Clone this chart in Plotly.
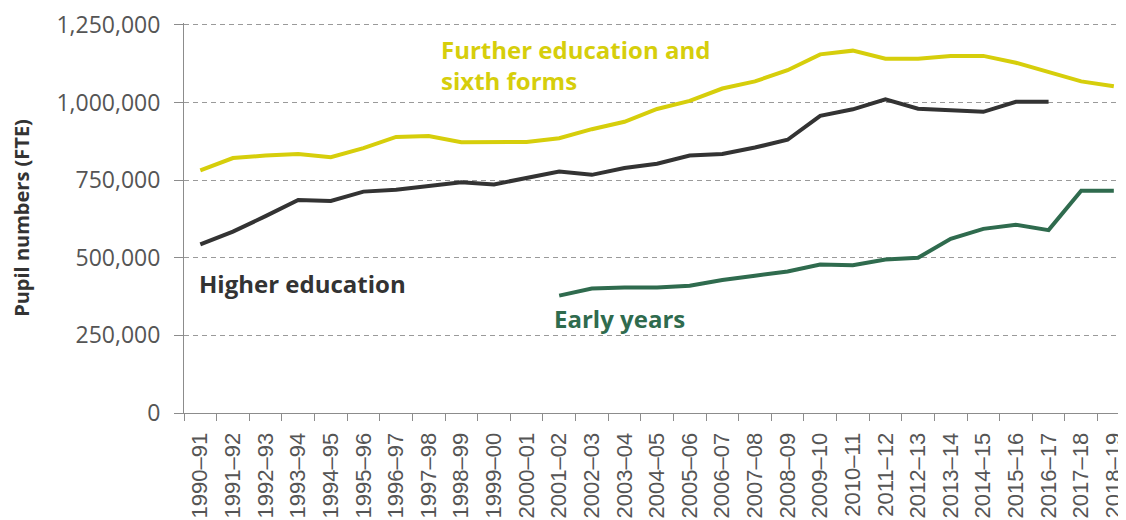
import plotly.graph_objects as go

years = ["1990–91", "1991–92", "1992–93", "1993–94", "1994–95", "1995–96", "1996–97",
         "1997–98", "1998–99", "1999–00", "2000–01", "2001–02", "2002–03", "2003–04",
         "2004–05", "2005–06", "2006–07", "2007–08", "2008–09", "2009–10", "2010–11",
         "2011–12", "2012–13", "2013–14", "2014–15", "2015–16", "2016–17", "2017–18",
         "2018–19"]

further_education = [781000, 821000, 829000, 834000, 824000, 853000, 889000, 892000, 872000,
                     873000, 873000, 885000, 914000, 938000, 979000, 1005000, 1045000,
                     1068000, 1104000, 1155000, 1167000, 1141000, 1141000, 1150000, 1150000,
                     1128000, 1098000, 1068000, 1052000]

higher_education = [543000, 584000, 634000, 686000, 683000, 713000, 719000, 731000, 743000,
                    736000, 757000, 778000, 767000, 789000, 803000, 829000, 834000, 855000,
                    880000, 957000, 978000, 1010000, 980000, 976000, 970000, 1002000, 1002000,
                    None, None]

early_years = [None] * 11 + [378000, 401000, 404000, 404000, 410000, 428000, 442000, 456000,
                             478000, 476000, 494000, 500000, 561000, 593000, 606000, 589000,
                             716000, 716000]

y_ticks = [0, 250000, 500000, 750000, 1000000, 1250000]
y_tick_labels = ["0", "250,000", "500,000", "750,000", "1,000,000", "1,250,000"]

YELLOW = "#D6CE0B"
BLACK = "#333333"
GREEN = "#2F6B4E"

fig = go.Figure()
fig.add_trace(go.Scatter(x=years, y=further_education, mode="lines",
                         line=dict(color=YELLOW, width=4), name="Further education and sixth forms"))
fig.add_trace(go.Scatter(x=years, y=higher_education, mode="lines",
                         line=dict(color=BLACK, width=4), name="Higher education"))
fig.add_trace(go.Scatter(x=years, y=early_years, mode="lines",
                         line=dict(color=GREEN, width=4), name="Early years"))

ann_font = "Open Sans"
fig.add_annotation(text="Further education and<br>sixth forms", xref="paper", yref="paper",
                   x=(440 - 184) / 942, y=1 - (29 - 21) / 392, xanchor="left", yanchor="top",
                   align="left", showarrow=False,
                   font=dict(family=ann_font, size=24, color=YELLOW, weight="bold"))
fig.add_annotation(text="Higher education", xref="paper", yref="paper",
                   x=(197 - 184) / 942, y=1 - (283 - 21) / 392, xanchor="left", yanchor="middle",
                   showarrow=False,
                   font=dict(family=ann_font, size=24, color=BLACK, weight="bold"))
fig.add_annotation(text="Early years", xref="paper", yref="paper",
                   x=(554 - 184) / 942, y=1 - (318 - 21) / 392, xanchor="left", yanchor="middle",
                   showarrow=False,
                   font=dict(family=ann_font, size=24, color=GREEN, weight="bold"))

fig.update_layout(
    width=1118, height=512,
    margin=dict(l=176, r=0, t=13, b=107),
    paper_bgcolor="white", plot_bgcolor="white",
    showlegend=False,
    xaxis=dict(
        type="category", range=[-0.5, 28.22],
        showgrid=False, showline=True, linecolor="#8c8c8c", linewidth=1,
        ticks="outside", tickson="boundaries", ticklen=7, tickcolor="#8c8c8c",
        tickangle=-90, ticklabelstandoff=10,
        tickfont=dict(family="Liberation Sans, Arial", size=22, color="#555555"),
    ),
    yaxis=dict(
        range=[0, 1256000], tickvals=y_ticks, ticktext=y_tick_labels,
        ticklabeloverflow="allow",
        showgrid=True, gridcolor="#9a9a9a", griddash="5px,4px", gridwidth=1,
        zeroline=False, showline=True, linecolor="#8c8c8c", linewidth=1,
        ticks="outside", ticklen=9, tickcolor="#8c8c8c", ticklabelstandoff=9,
        tickfont=dict(family="Open Sans", size=23, color="#555555"),
        title=dict(text="Pupil numbers (FTE)", standoff=22,
                   font=dict(family="Open Sans", size=20, color=BLACK, weight="bold")),
    ),
)

fig.write_html("out.html")
